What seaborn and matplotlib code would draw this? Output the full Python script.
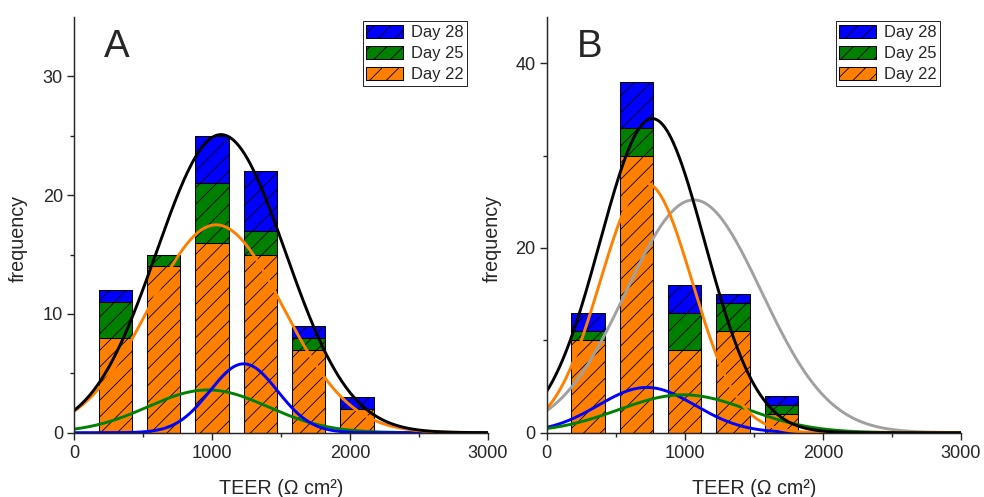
import numpy as np
import pandas as pd
import seaborn as sns
import matplotlib.pyplot as plt
from matplotlib.patches import Patch
from matplotlib.ticker import FixedLocator

# stacking order top -> bottom, also the legend order
days = ['Day 28', 'Day 25', 'Day 22']
day_colors = {'Day 28': '#0000ff', 'Day 25': '#008000', 'Day 22': '#ff8000'}

bin_centers = [300, 650, 1000, 1350, 1700, 2050]

# panel A, counts per TEER bin
a_day22 = [8, 14, 16, 15, 7, 2]
a_day25 = [3, 1, 5, 2, 1, 0]
a_day28 = [1, 0, 4, 5, 1, 1]

# panel B, counts per TEER bin (last bin empty)
b_day22 = [10, 30, 9, 11, 2, 0]
b_day25 = [1, 3, 4, 3, 1, 0]
b_day28 = [2, 5, 3, 1, 1, 0]

# gaussian fits (amplitude, centre, sigma)
a_fit_colors = ['#008000', '#0000ff', '#ff8000', 'black']
a_fit_amp = [3.6, 5.8, 17.5, 25.1]
a_fit_mu = [970, 1230, 1030, 1065]
a_fit_sigma = [435, 245, 483, 467]

b_fit_colors = ['#0000ff', '#008000', '#a0a0a0', '#ff8000', 'black']
b_fit_amp = [4.9, 4.1, 25.2, 27.0, 34.0]
b_fit_mu = [724, 990, 1065, 720, 765]
b_fit_sigma = [350, 470, 490, 333, 380]

x_ticks = [0, 1000, 2000, 3000]
x_minor = [500, 1500, 2500]


def make_table(d22, d25, d28):
    rows = []
    for day, counts in zip(days, [d28, d25, d22]):
        for c, n in zip(bin_centers, counts):
            rows.append({'TEER': c, 'day': day, 'n': n})
    return pd.DataFrame(rows)


def trace_panel(ax, table, fit_colors, amp, mu, sigma, ylim, yticks, yminor,
                letter, ylab_x):
    step = bin_centers[1] - bin_centers[0]
    edges = [c - step / 2 for c in bin_centers] + [bin_centers[-1] + step / 2]
    sns.histplot(data=table, x='TEER', weights='n', hue='day', hue_order=days,
                 palette=day_colors, multiple='stack', bins=edges, shrink=0.69,
                 edgecolor='black', linewidth=0.75, hatch='//', alpha=1,
                 legend=False, ax=ax)

    xs = np.linspace(0, 3000, 600)
    for col, a, m, s in zip(fit_colors, amp, mu, sigma):
        ys = a * np.exp(-(xs - m) ** 2 / (2 * s ** 2))
        sns.lineplot(x=xs, y=ys, color=col, lw=2.1, ax=ax)

    ax.set_xlim(0, 3000)
    ax.set_ylim(*ylim)
    ax.xaxis.set_major_locator(FixedLocator(x_ticks))
    ax.xaxis.set_minor_locator(FixedLocator(x_minor))
    ax.yaxis.set_major_locator(FixedLocator(yticks))
    ax.yaxis.set_minor_locator(FixedLocator(yminor))
    ax.tick_params(which='major', direction='out', length=5.0, width=1.0,
                   labelsize=13.1)
    ax.tick_params(axis='x', which='major', pad=4.1)
    ax.tick_params(axis='y', which='major', pad=3)
    ax.tick_params(which='minor', direction='out', length=2.9, width=1.0)
    for side in ['left', 'bottom']:
        ax.spines[side].set_linewidth(1.05)
    sns.despine(ax=ax)
    ax.set_xlabel('TEER (Ω cm²)', size=14.25, labelpad=12)
    ax.set_ylabel('frequency', size=14.25)
    ax.yaxis.set_label_coords(ylab_x, 0.466)
    ax.text(0.073, 0.904, letter, transform=ax.transAxes, size=27.75,
            ha='left', va='baseline')

    handles = [Patch(facecolor=day_colors[d], edgecolor='black', hatch='//',
                     linewidth=0.75, label=d) for d in days]
    leg = ax.legend(handles=handles, loc='upper right',
                    bbox_to_anchor=(0.949, 0.99), fontsize=11.85,
                    handlelength=2.25, handleheight=0.85, labelspacing=0.36,
                    handletextpad=0.45, borderpad=0.22, borderaxespad=0,
                    fancybox=False, framealpha=1)
    leg.get_frame().set_edgecolor('black')
    leg.get_frame().set_linewidth(0.6)


sns.set_style('ticks')
plt.rcParams['font.family'] = ['Liberation Sans', 'DejaVu Sans']
plt.rcParams['hatch.linewidth'] = 0.6

fig = plt.figure(figsize=(9.84, 4.97), dpi=100)
ax_a = fig.add_axes([0.0752, 0.1294, 0.4207, 0.8364])
ax_b = fig.add_axes([0.5556, 0.1294, 0.4210, 0.8364])

trace_panel(ax_a, make_table(a_day22, a_day25, a_day28), a_fit_colors,
            a_fit_amp, a_fit_mu, a_fit_sigma, (0, 35), [0, 10, 20, 30],
            [5, 15, 25], 'A', -0.111)
trace_panel(ax_b, make_table(b_day22, b_day25, b_day28), b_fit_colors,
            b_fit_amp, b_fit_mu, b_fit_sigma, (0, 45), [0, 20, 40],
            [10, 30], 'B', -0.109)

fig.savefig('out.png', dpi=100)
